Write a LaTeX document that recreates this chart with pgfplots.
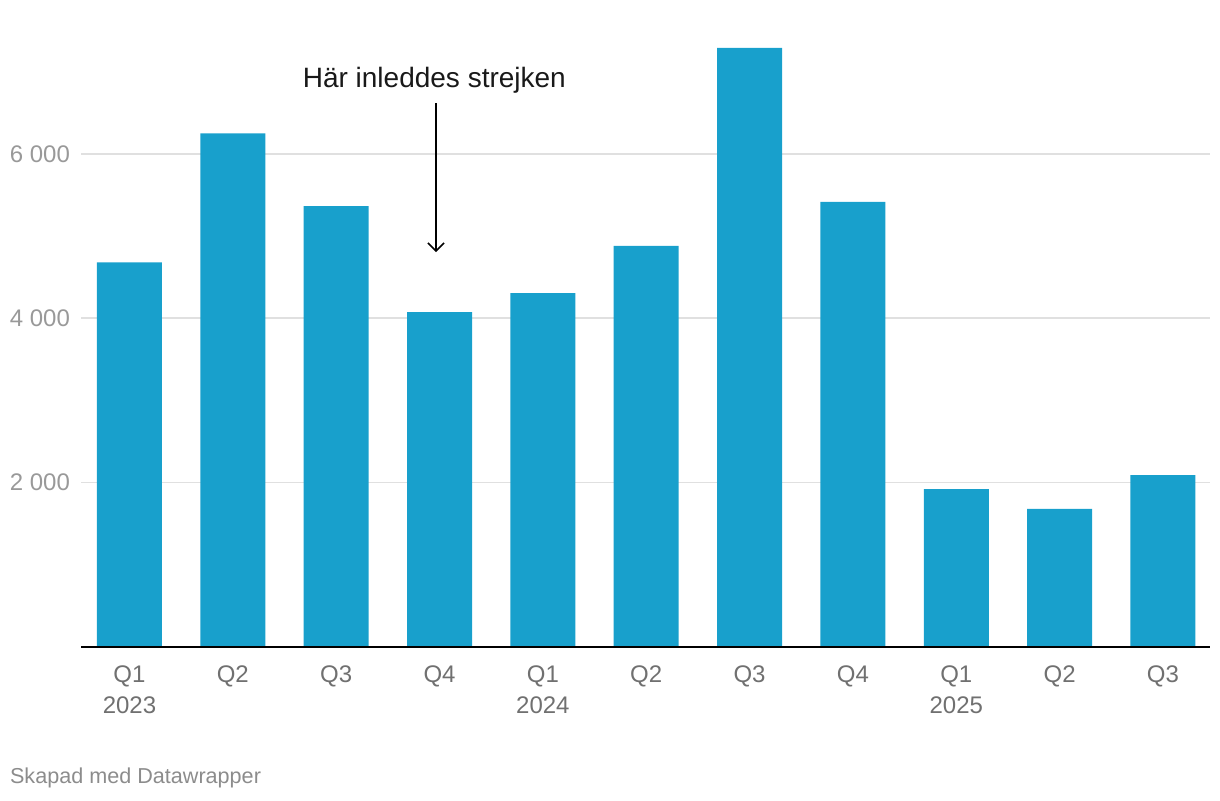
\documentclass[border=0pt]{standalone}
\usepackage{pgfplots}
\pgfplotsset{compat=1.18}
\usepackage{fontspec}
\setmainfont{Liberation Sans}
\usetikzlibrary{arrows.meta}
\definecolor{barblue}{RGB}{24,160,204}
\definecolor{gridgray}{RGB}{224,224,224}
\definecolor{ylab}{RGB}{153,153,153}
\definecolor{xlab}{RGB}{112,112,112}
\definecolor{foot}{RGB}{140,140,140}

\pgfplotstableread{
x y
0 4680
1 6250
2 5365
3 4075
4 4305
5 4880
6 7290
7 5415
8 1920
9 1680
10 2090
}\strejk

\begin{document}
\begin{tikzpicture}
\path[use as bounding box] (0,0) rectangle (610pt,400pt);
\begin{axis}[
    at={(40.5pt,76.5pt)}, anchor=south west,
    scale only axis,
    width=564.5pt, height=308.25pt,
    xmin=-0.469, xmax=10.455,
    ymin=0, ymax=7500,
    ybar, bar width=0.629, bar shift=0pt,
    axis line style={draw=none},
    major tick length=0pt,
    ytick={2000,4000,6000},
    yticklabels={2 000,4 000,6 000},
    ymajorgrids, grid style={gridgray, line width=0.8pt},
    yticklabel style={font=\fontsize{12}{14.4}\selectfont, text=ylab, anchor=east, xshift=-2pt},
    xtick={0,...,10},
    xticklabels={Q1\\2023,Q2,Q3,Q4,Q1\\2024,Q2,Q3,Q4,Q1\\2025,Q2,Q3},
    xticklabel style={font=\fontsize{12}{15.5}\selectfont, text=xlab, align=center, anchor=north, yshift=-6pt},
    clip=false,
]
\addplot[fill=barblue, draw=none] table[x=x, y=y] {\strejk};
\draw[black, line width=1pt] (rel axis cs:0,0) -- (rel axis cs:1,0);
\draw[black, line width=0.75pt, -{Straight Barb[length=4pt, width=8pt]}] (axis cs:2.966,6618) -- (axis cs:2.966,4805);
\node[font=\fontsize{14}{16}\selectfont, text=black!90, anchor=base] at (axis cs:2.95,6810) {Här inleddes strejken};
\end{axis}
\node[anchor=base west, font=\fontsize{10.8}{13}\selectfont, text=foot] at (1.5pt,8.5pt) {Skapad med Datawrapper};
\end{tikzpicture}
\end{document}
